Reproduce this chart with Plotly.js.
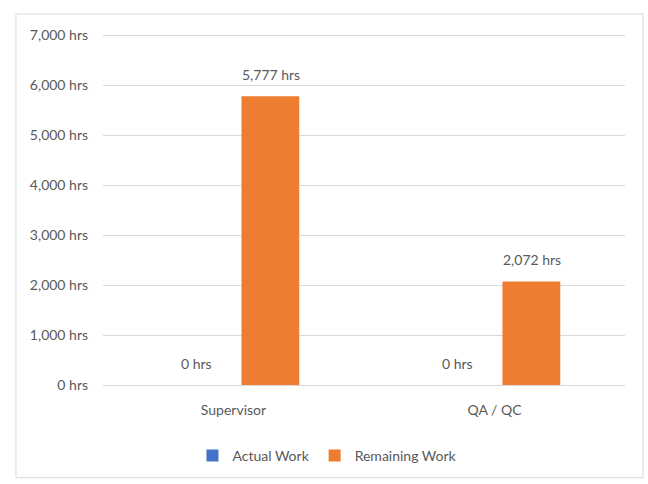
<!DOCTYPE html>
<html>
<head>
<meta charset="utf-8">
<script src="https://cdn.plot.ly/plotly-3.0.1.min.js"></script>
<style>
  html, body { margin: 0; padding: 0; background: #ffffff; }
  #chart { width: 648px; height: 484px; }
</style>
</head>
<body>
<div id="chart"></div>
<script>
// Work hours by role
const roles = ['Supervisor', 'QA / QC'];
const actualWork = [0, 0];
const remainingWork = [5777, 2072];
const seriesNames = ['Actual Work', 'Remaining Work'];
const yTicks = [0, 1000, 2000, 3000, 4000, 5000, 6000, 7000];

const FONT = 'Lato, "Open Sans", sans-serif';
const GREY = '#595959';

const fmt = v => v.toLocaleString('en-US') + ' hrs';

const traces = [
  { type: 'bar', name: seriesNames[0], x: roles, y: actualWork,
    marker: { color: '#4472C4' } },
  { type: 'bar', name: seriesNames[1], x: roles, y: remainingWork,
    marker: { color: '#ED7D31' } }
];

// value labels above each bar, offset to the bar's slot in the group
const annotations = [];
[[actualWork, -37], [remainingWork, 37]].forEach(([vals, dx]) => {
  vals.forEach((v, i) => {
    annotations.push({
      x: roles[i], y: v, xref: 'x', yref: 'y',
      text: fmt(v), showarrow: false,
      xshift: dx, yshift: 11, yanchor: 'bottom',
      font: { family: FONT, size: 14, color: GREY }
    });
  });
});

const layout = {
  width: 648, height: 484,
  margin: { l: 103, r: 23, t: 31, b: 99 },
  paper_bgcolor: '#ffffff', plot_bgcolor: '#ffffff',
  font: { family: FONT, size: 14, color: GREY },
  barmode: 'group',
  bargap: 0.435,
  bargroupgap: 0.216,
  showlegend: true,
  legend: {
    orientation: 'h', x: 0.43, xanchor: 'center', y: -0.2, yanchor: 'middle',
    font: { family: FONT, size: 14, color: GREY },
    itemwidth: 30, traceorder: 'normal'
  },
  xaxis: {
    type: 'category', showline: false, showgrid: false, zeroline: false,
    ticks: '', ticklabelstandoff: 15,
    tickfont: { family: FONT, size: 14, color: GREY }
  },
  yaxis: {
    range: [0, 7080], tickvals: yTicks, ticktext: yTicks.map(fmt),
    showgrid: true, gridcolor: '#d9d9d9', gridwidth: 1,
    zeroline: true, zerolinecolor: '#d9d9d9', zerolinewidth: 1,
    showline: false, ticks: '', ticklabelstandoff: 14,
    tickfont: { family: FONT, size: 14, color: GREY }
  },
  annotations: annotations,
  shapes: [{
    type: 'rect', xref: 'paper', yref: 'paper',
    x0: -0.1667, x1: 1.0345, y0: -0.262, y1: 1.048,
    line: { color: '#d9d9d9', width: 1 }, fillcolor: 'rgba(0,0,0,0)', layer: 'below'
  }]
};

Plotly.newPlot('chart', traces, layout, { staticPlot: true, displayModeBar: false });
</script>
</body>
</html>
